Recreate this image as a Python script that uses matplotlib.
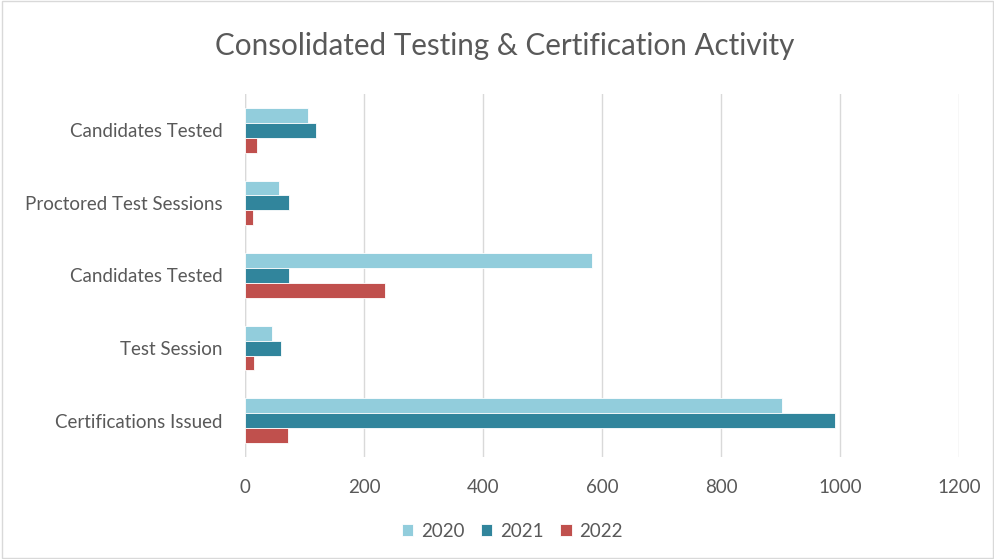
import numpy as np
import matplotlib.pyplot as plt
from matplotlib.patches import Rectangle

plt.rcParams["font.family"] = ["Lato", "DejaVu Sans"]

# =====================================================
# DATA
# =====================================================

categories = [
    "Candidates Tested",
    "Proctored Test Sessions",
    "Candidates Tested",
    "Test Session",
    "Certifications Issued",
]

years = ["2020", "2021", "2022"]

values_2020 = [106, 58, 584, 45, 902]
values_2021 = [119, 74, 74, 60, 992]
values_2022 = [21, 13, 235, 16, 73]

colors = ["#92CDDC", "#31859C", "#C0504D"]

# =====================================================
# FIGURE
# =====================================================

fig = plt.figure(figsize=(9.95, 5.59), dpi=100)
ax = fig.add_axes([0.2462, 0.1825, 0.7176, 0.6494])

y = np.arange(len(categories))
bar_h = 0.205
series = [values_2020, values_2021, values_2022]

for i, (vals, year, col) in enumerate(zip(series, years, colors)):
    ax.barh(
        y + (i - 1) * bar_h,
        vals,
        height=bar_h,
        color=col,
        edgecolor="white",
        linewidth=0.6,
        label=year,
        zorder=3,
    )

ax.set_ylim(len(categories) - 0.5, -0.5)
ax.set_xlim(0, 1200)
ax.set_xticks(np.arange(0, 1201, 200))
ax.set_yticks(y)
ax.set_yticklabels(categories)

ax.grid(axis="x", color="#d9d9d9", linewidth=1, zorder=0)
for s in ["top", "right", "bottom", "left"]:
    ax.spines[s].set_visible(False)
ax.axvline(0, color="#d9d9d9", linewidth=1, zorder=1)

ax.tick_params(axis="both", length=0, labelsize=13.5, colors="#595959")
ax.tick_params(axis="x", pad=16)
ax.tick_params(axis="y", pad=16)

fig.text(
    0.507,
    0.918,
    "Consolidated Testing & Certification Activity",
    ha="center",
    va="center",
    fontsize=21.3,
    color="#595959",
)

fig.legend(
    loc="center",
    bbox_to_anchor=(0.515, 0.05),
    ncol=3,
    frameon=False,
    fontsize=13.5,
    labelcolor="#595959",
    handlelength=0.6,
    handleheight=0.6,
    handletextpad=0.4,
    columnspacing=0.9,
)

fig.patches.append(
    Rectangle(
        (0.002, 0.002), 0.996, 0.996,
        transform=fig.transFigure,
        fill=False,
        edgecolor="#d9d9d9",
        linewidth=1,
    )
)

fig.savefig("out.png", dpi=100)
